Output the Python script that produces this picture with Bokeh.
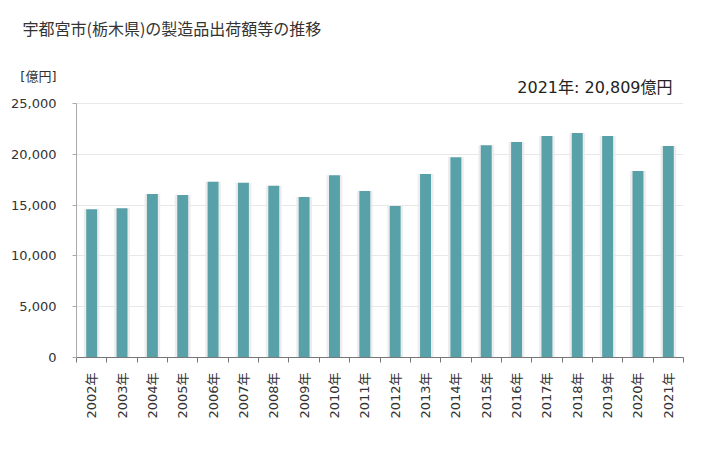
import math
from bokeh.plotting import figure
from bokeh.models import (ColumnDataSource, FixedTicker, NumeralTickFormatter, Range1d,
                          LinearAxis, Label, Title)
from bokeh.embed import file_html
from bokeh.resources import INLINE

years = ["2002年", "2003年", "2004年", "2005年", "2006年", "2007年", "2008年", "2009年", "2010年", "2011年",
         "2012年", "2013年", "2014年", "2015年", "2016年", "2017年", "2018年", "2019年", "2020年", "2021年"]
values = [14600, 14700, 16100, 16000, 17300, 17200, 16900, 15800, 17950, 16400,
          14900, 18050, 19700, 20900, 21200, 21800, 22100, 21800, 18350, 20809]
y_ticks = [0, 5000, 10000, 15000, 20000, 25000]
title_text = "宇都宮市(栃木県)の製造品出荷額等の推移"
unit_text = "[億円]"
latest_text = "2021年: 20,809億円"

FONT = "Noto Sans CJK JP"
NUMFONT = "DejaVu Sans, Noto Sans CJK JP"

# layout (pixels)
W, H = 712, 434
FRAME_TOP = 66          # frame extends above the 25,000 line to hold the texts
AXIS_TOP = 103          # pixel row of 25,000
FRAME_BOTTOM = 357
Y_MAX = 25000
px_per_unit = (FRAME_BOTTOM - AXIS_TOP) / Y_MAX
y_end = (FRAME_BOTTOM - FRAME_TOP) / px_per_unit
unit_y = int(round((FRAME_BOTTOM - 76) / px_per_unit))

idx = list(range(len(years)))
src = ColumnDataSource(dict(x=idx, top=values))

p = figure(width=W, height=H, output_backend="svg", toolbar_location=None,
           x_range=Range1d(-0.5, len(years) - 0.5), y_range=Range1d(0, y_end),
           min_border_left=76, min_border_right=29, min_border_top=FRAME_TOP,
           min_border_bottom=H - FRAME_BOTTOM)
p.outline_line_color = None
p.background_fill_color = "white"

# bars with a soft shadow
p.vbar(x="x", top="top", width=0.52, source=src, fill_color="#e8e8e8", line_color=None, fill_alpha=0.8)
p.vbar(x="x", top="top", width=0.36, source=src, fill_color="#58a1a8", line_color=None)

p.xgrid.grid_line_color = None
p.ygrid.grid_line_color = "#e8e8e8"
p.ygrid.ticker = FixedTicker(ticks=y_ticks)

xa = p.xaxis[0]
xa.ticker = FixedTicker(ticks=idx, minor_ticks=[i - 0.5 for i in range(len(years) + 1)])
xa.major_label_overrides = {i: y for i, y in enumerate(years)}
xa.major_label_orientation = math.pi / 2
xa.major_tick_out = 0
xa.major_tick_in = 0
xa.minor_tick_out = 5
xa.minor_tick_in = 0
xa.minor_tick_line_color = "#777777"
xa.axis_line_color = "#777777"
xa.major_label_standoff = 10
xa.major_label_text_font = NUMFONT
xa.major_label_text_font_size = "13px"
xa.major_label_text_color = "#333333"

# axis A: line and tick marks only
ya = p.yaxis[0]
ya.bounds = (0, Y_MAX)
ya.ticker = FixedTicker(ticks=y_ticks)
ya.major_label_overrides = {t: "" for t in y_ticks}
ya.major_label_standoff = 0
ya.major_tick_out = 4
ya.major_tick_in = 0
ya.minor_tick_line_color = None
ya.major_tick_line_color = "#aaaaaa"
ya.axis_line_color = "#aaaaaa"

# axis B: labels only (tick values and the unit)
yb = LinearAxis(ticker=FixedTicker(ticks=y_ticks + [unit_y]),
                formatter=NumeralTickFormatter(format="0,0"),
                major_label_overrides={unit_y: unit_text})
yb.axis_line_color = None
yb.major_tick_line_color = None
yb.minor_tick_line_color = None
yb.major_label_standoff = 10
yb.major_label_text_font = NUMFONT
yb.major_label_text_font_size = "13px"
yb.major_label_text_color = "#333333"
p.add_layout(yb, "left")

# latest value label
p.add_layout(Label(x=672 - 76, y=FRAME_BOTTOM - 87, x_units="screen", y_units="screen",
                   text=latest_text, text_font=NUMFONT, text_font_size="16px",
                   text_align="right", text_baseline="middle", text_color="#222222"))

# title (with a blank spacer panel below it)
p.title.visible = False
p.add_layout(Title(text=" ", text_color="white", text_font=FONT, text_font_size="13px", standoff=6), "above")
p.add_layout(Title(text=title_text, align="left", offset=-54, standoff=0,
                   text_font=FONT, text_font_size="16px", text_font_style="normal",
                   text_color="#333333"), "above")

open("out.html", "w").write(file_html(p, INLINE))
